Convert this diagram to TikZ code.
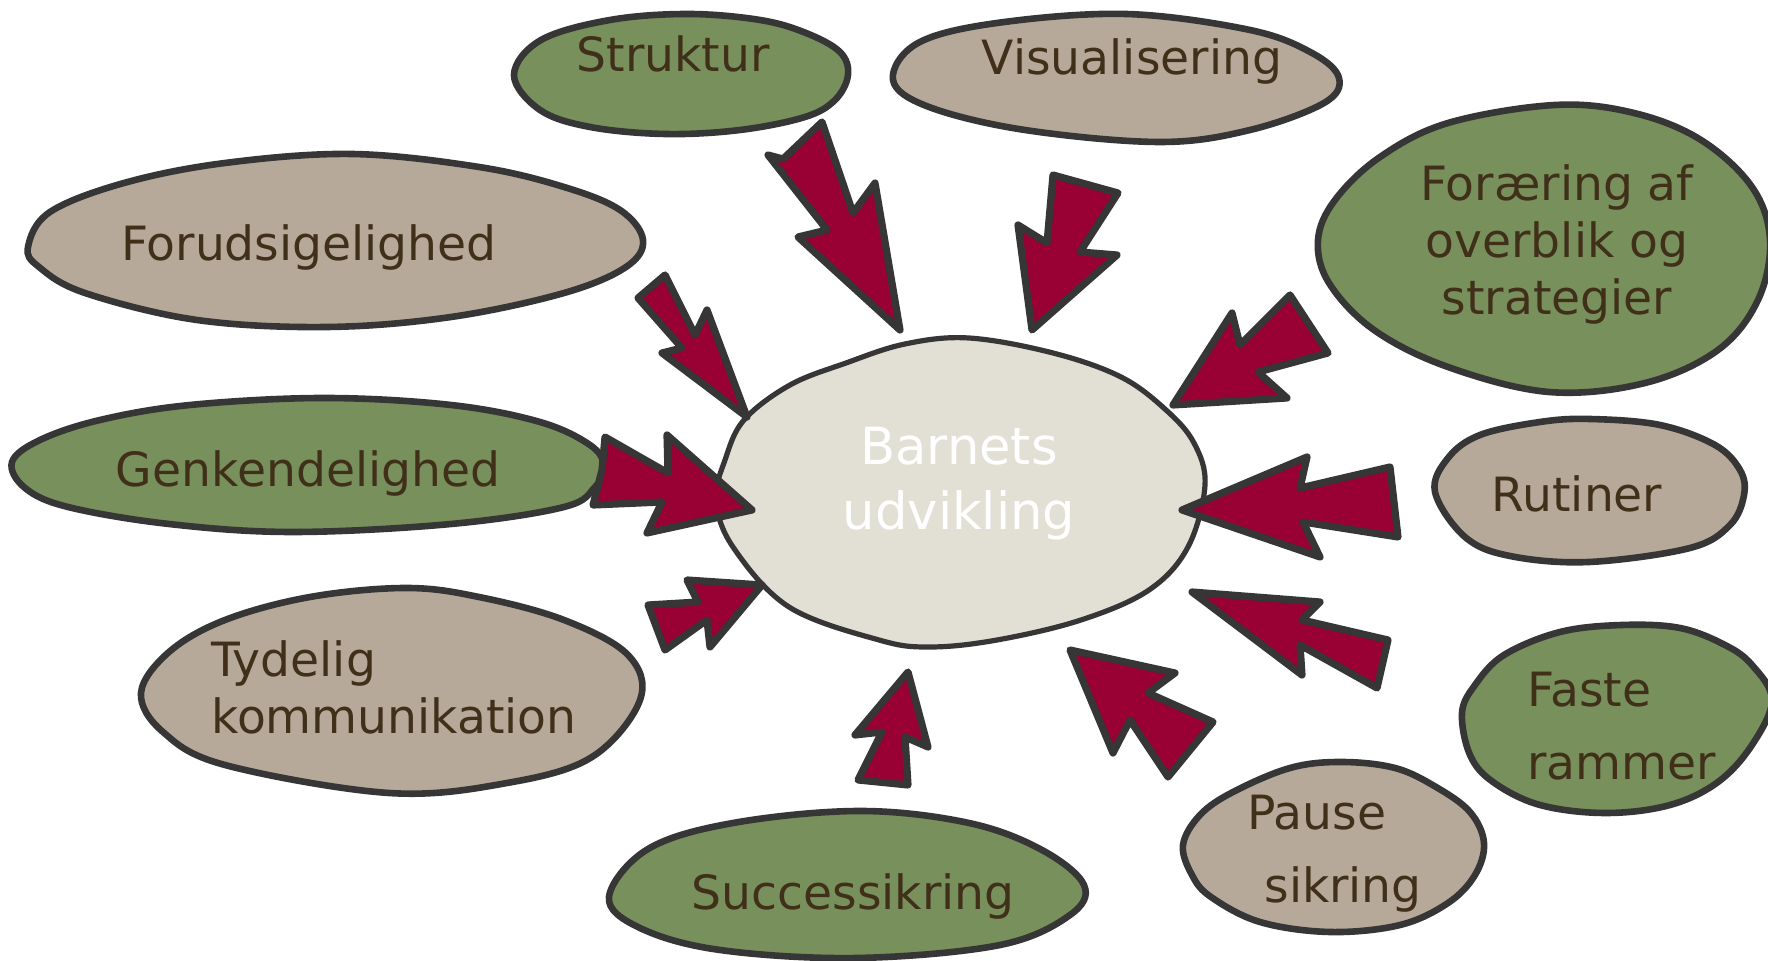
\documentclass[tikz,border=0pt]{standalone}
\usepackage{fontspec}
\setmainfont{DejaVu Sans}
\definecolor{ink}{HTML}{363636}
\definecolor{leaf}{HTML}{78905C}
\definecolor{sand}{HTML}{B7A999}
\definecolor{core}{HTML}{E2DFD5}
\definecolor{wine}{HTML}{990033}
\definecolor{txt}{HTML}{40301A}
\newcommand{\lblfont}{\fontsize{23.6pt}{28.5pt}\selectfont}
\newcommand{\lblfontwide}{\fontsize{23.6pt}{36.5pt}\selectfont}
\newcommand{\corefont}{\fontsize{25.6pt}{32.5pt}\selectfont}
\begin{document}
\begin{tikzpicture}[x=0.5pt,y=-0.5pt,
  blob/.style={draw=ink, line width=3.3pt, line join=round},
  green blob/.style={blob, fill=leaf},
  sand blob/.style={blob, fill=sand},
  core blob/.style={draw=ink, line width=2.6pt, fill=core},
  push/.style={draw=ink, fill=wine, line width=3.6pt, line join=round, line cap=round},
  lbl/.style={inner sep=0pt, text=txt, font=\lblfont, anchor=base},
]
\useasboundingbox (0,0) rectangle (1768,961);

% ---- outer bubbles ----
% Struktur
\path[green blob] plot[smooth cycle, tension=0.6] coordinates {(514,75) (541,40) (610,20) (688,14) (760,20) (806,33) (840,52) (848,75) (835,100) (805,117) (740,130) (665,134) (590,127) (540,110)};
% Visualisering
\path[sand blob] plot[smooth cycle, tension=0.6] coordinates {(893,80) (918,43) (997,23) (1126,14) (1250,30) (1312,53) (1339,78) (1324,103) (1250,130) (1160,142) (1025,130) (929,107)};
% Forudsigelighed
\path[sand blob] plot[smooth cycle, tension=0.6] coordinates {(28,247) (50,212) (124,183) (225,163) (352,154) (479,167) (564,187) (620,210) (643,240) (626,267) (564,293) (451,317) (327,327) (197,320) (85,293) (39,267)};
% Genkendelighed
\path[green blob] plot[smooth cycle, tension=0.6] coordinates {(12,462) (40,440) (100,420) (190,405) (324,398) (451,405) (540,422) (590,445) (604,466) (595,487) (564,507) (451,524) (293,532) (169,524) (68,507) (25,488)};
% Tydelig kommunikation
\path[sand blob] plot[smooth cycle, tension=0.6] coordinates {(406,588) (310,597) (225,620) (169,652) (141,693) (163,732) (225,765) (389,793) (507,783) (592,757) (640,700) (628,655) (564,620) (479,597)};
% Successikring
\path[green blob] plot[smooth cycle, tension=0.6] coordinates {(609,897) (648,849) (733,823) (860,811) (969,823) (1042,850) (1084,885) (1070,915) (1000,945) (857,958) (720,950) (640,928)};
% Foraering af overblik og strategier
\path[green blob] plot[smooth cycle, tension=0.6] coordinates {(1555,105) (1448,123) (1380,157) (1335,200) (1318,240) (1329,283) (1374,330) (1448,367) (1549,392) (1645,383) (1718,350) (1758,300) (1770,240) (1752,187) (1701,140) (1634,113)};
% Rutiner
\path[sand blob] plot[smooth cycle, tension=0.6] coordinates {(1435,492) (1448,458) (1480,435) (1540,422) (1590,419) (1660,425) (1715,445) (1740,470) (1744,495) (1730,525) (1690,548) (1589,562) (1510,556) (1465,537)};
% Faste rammer
\path[green blob] plot[smooth cycle, tension=0.6] coordinates {(1622,625) (1560,632) (1504,655) (1475,685) (1462,713) (1470,755) (1493,782) (1540,805) (1606,813) (1670,805) (1718,782) (1752,745) (1772,700) (1752,665) (1725,645) (1680,628)};
% Pause sikring
\path[sand blob] plot[smooth cycle, tension=0.6] coordinates {(1341,762) (1290,768) (1233,792) (1200,815) (1183,845) (1192,875) (1211,897) (1260,922) (1330,932) (1400,925) (1448,903) (1475,875) (1484,843) (1470,812) (1436,787) (1395,768)};

% ---- central bubble ----
\path[core blob] plot[smooth cycle, tension=0.6] coordinates {(969,338) (1053,353) (1121,377) (1166,410) (1194,443) (1205,485) (1188,547) (1149,590) (1081,620) (997,640) (930,647) (879,640) (789,607) (733,547) (716,500) (725,460) (744,420) (790,385) (846,363) (905,344)};

% ---- block arrows pointing at the centre ----
\draw[push] (768,155) -- (783,159) -- (822,122) -- (853,213) -- (875,183) -- (900,330) -- (798,237) -- (827,230) -- cycle;
\draw[push] (1053,175) -- (1118,193) -- (1080,252) -- (1117,255) -- (1032,330) -- (1018,225) -- (1047,243) -- cycle;
\draw[push] (638,298) -- (665,275) -- (695,335) -- (707,310) -- (747,417) -- (662,353) -- (682,348) -- cycle;
\draw[push] (605,437) -- (668,473) -- (667,435) -- (752,510) -- (647,533) -- (662,502) -- (593,505) -- (602,470) -- cycle;
\draw[push] (648,605) -- (698,602) -- (687,580) -- (762,585) -- (710,647) -- (707,620) -- (665,650) -- cycle;
\draw[push] (908,672) -- (928,747) -- (905,737) -- (908,785) -- (858,780) -- (882,732) -- (855,735) -- cycle;
\draw[push] (1070,650) -- (1175,673) -- (1148,693) -- (1213,722) -- (1168,777) -- (1130,720) -- (1113,753) -- cycle;
\draw[push] (1192,592) -- (1320,602) -- (1302,620) -- (1388,640) -- (1377,688) -- (1300,645) -- (1302,675) -- cycle;
\draw[push] (1182,510) -- (1307,457) -- (1300,488) -- (1390,467) -- (1398,537) -- (1303,522) -- (1320,557) -- cycle;
\draw[push] (1173,405) -- (1232,313) -- (1240,345) -- (1290,295) -- (1328,353) -- (1258,372) -- (1287,398) -- cycle;

% ---- labels ----
\node[lbl] (struktur) at (673,72) {Struktur};
\node[lbl] (visual) at (1132,75) {Visualisering};
\node[lbl] (forud) at (309,261) {Forudsigelighed};
\node[lbl] (genk) at (308,487) {Genkendelighed};
\node[lbl, anchor=base west] (tydelig) at (211,677) {\begin{tabular}[t]{@{}l@{}}Tydelig\\kommunikation\end{tabular}};
\node[lbl] (success) at (853,910) {Successikring};
\node[lbl] (foraering) at (1557,201) {\begin{tabular}[t]{@{}c@{}}Foræring af\\overblik og\\strategier\end{tabular}};
\node[lbl] (rutiner) at (1577,512) {Rutiner};
\node[lbl, anchor=base west, font=\lblfontwide] (faste) at (1527,707) {\begin{tabular}[t]{@{}l@{}}Faste\\rammer\end{tabular}};
\node[lbl, anchor=base west, font=\lblfontwide] (pause) at (1247,830) {\begin{tabular}[t]{@{}l@{}}Pause\\\hspace*{8.5pt}sikring\end{tabular}};
\node[inner sep=0pt, anchor=base, text=white, font=\corefont] (barn) at (959,465) {\begin{tabular}[t]{@{}c@{}}Barnets\\udvikling\end{tabular}};
\end{tikzpicture}
\end{document}
